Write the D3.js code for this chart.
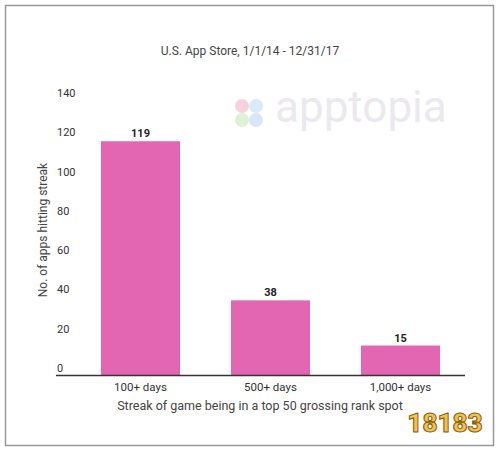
<!DOCTYPE html>
<html><head><meta charset="utf-8">
<script src="https://cdn.jsdelivr.net/npm/d3@7"></script>
<style>body{margin:0;background:#fff}text{font-family:Roboto,sans-serif}</style>
</head><body><svg id="chart" width="500" height="451"></svg>
<script>
// Chart data
let categories = ["100+ days", "500+ days", "1,000+ days"];
let values = [119, 38, 15];
let yTicks = [0, 20, 40, 60, 80, 100, 120, 140];

let svg = d3.select("#chart");

// outer frame
svg.append("rect").attr("x", 5.5).attr("y", 5.5).attr("width", 488).attr("height", 440)
  .attr("fill", "none").attr("stroke", "#999").attr("stroke-width", 1.5);

let x = d3.scaleBand().domain(categories).range([75, 466]).paddingInner(0.392).paddingOuter(0.2);
let y = d3.scaleLinear().domain([0, 140]).range([375, 100]);

// watermark
svg.append("text").attr("x", 275).attr("y", 122).attr("font-size", 44)
  .attr("fill", "#ebe9ef").text("apptopia");
let colors = ["#f4c6d6", "#cfe6f5", "#d4edc8", "#cfe0f5"];
[[242, 106], [256, 106], [242, 120], [256, 120]].forEach((p, i) => {
  svg.append("circle").attr("cx", p[0]).attr("cy", p[1]).attr("r", 7).attr("fill", colors[i]).attr("opacity", 0.8);
});

svg.append("text").attr("x", 250).attr("y", 55).attr("text-anchor", "middle")
  .attr("font-size", 12).attr("fill", "#444").text("U.S. App Store, 1/1/14 - 12/31/17");

// y tick labels (sit above their values)
svg.selectAll(".ytick").data(yTicks).enter().append("text")
  .attr("x", 57).attr("y", d => y(d) - 3).attr("font-size", 11).attr("fill", "#333").text(d => d);

svg.append("text").attr("transform", "translate(47,230) rotate(-90)").attr("text-anchor", "middle")
  .attr("font-size", 12).attr("fill", "#444").text("No. of apps hitting streak");

svg.selectAll(".bar").data(values).enter().append("rect")
  .attr("x", (d, i) => x(categories[i])).attr("width", x.bandwidth())
  .attr("y", d => y(d)).attr("height", d => y(0) - y(d)).attr("fill", "#e266b2");

svg.selectAll(".val").data(values).enter().append("text")
  .attr("x", (d, i) => x(categories[i]) + x.bandwidth() / 2).attr("y", d => y(d) - 4)
  .attr("text-anchor", "middle").attr("font-size", 11).attr("font-weight", "bold").attr("fill", "#222").text(d => d);

svg.append("line").attr("x1", 56).attr("x2", 465).attr("y1", 375.5).attr("y2", 375.5)
  .attr("stroke", "#333").attr("stroke-width", 1.5);

svg.selectAll(".xtick").data(categories).enter().append("text")
  .attr("x", d => x(d) + x.bandwidth() / 2).attr("y", 391).attr("text-anchor", "middle")
  .attr("font-size", 11.5).attr("fill", "#333").text(d => d);

svg.append("text").attr("x", 260).attr("y", 410).attr("text-anchor", "middle")
  .attr("font-size", 12.5).attr("fill", "#444").text("Streak of game being in a top 50 grossing rank spot");

// corner watermark
svg.append("text").attr("x", 445).attr("y", 432).attr("text-anchor", "middle")
  .attr("font-size", 26).attr("font-weight", "900").attr("fill", "#f2c24a")
  .attr("stroke", "#8a5a10").attr("stroke-width", 1).text("18183");
</script></body></html>
